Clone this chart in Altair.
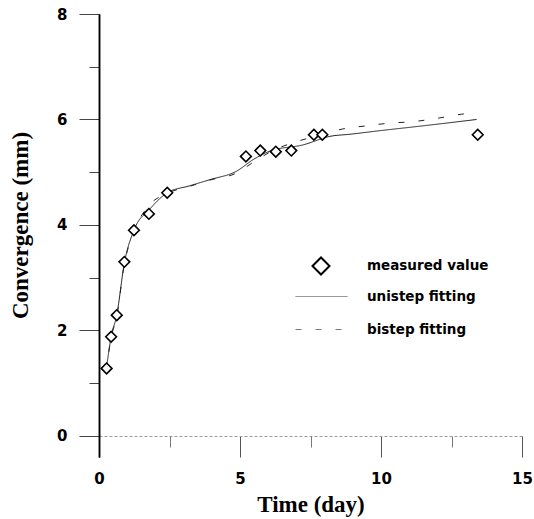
import altair as alt
import pandas as pd

# measured values
meas_t = [0.27, 0.43, 0.63, 0.90, 1.24, 1.77, 2.42, 5.21, 5.72, 6.27, 6.82, 7.62, 7.92, 13.43]
meas_v = [1.28, 1.88, 2.29, 3.30, 3.90, 4.21, 4.61, 5.30, 5.41, 5.39, 5.41, 5.71, 5.71, 5.71]

# unistep fitting curve
uni_t = [0.25, 0.43, 0.63, 0.90, 1.24, 1.80, 2.42, 3.20, 3.94, 4.88, 5.47, 6.06, 7.25, 8.19, 8.90, 10.0, 11.5, 13.39]
uni_v = [1.22, 1.88, 2.29, 3.28, 3.90, 4.30, 4.61, 4.74, 4.86, 5.02, 5.24, 5.40, 5.52, 5.68, 5.72, 5.79, 5.88, 6.00]

# bistep fitting curve
bi_t = [0.25, 0.43, 0.63, 0.90, 1.24, 1.74, 2.42, 3.20, 4.00, 4.86, 5.50, 6.20, 7.01, 7.80, 8.64, 9.49, 10.3, 11.15, 11.97, 12.86, 13.2]
bi_v = [1.22, 1.86, 2.27, 3.26, 3.88, 4.35, 4.60, 4.73, 4.86, 4.98, 5.20, 5.42, 5.58, 5.70, 5.82, 5.88, 5.93, 5.96, 6.02, 6.10, 6.12]

x_major = [0, 5, 10, 15]
x_minor = [2.5, 7.5, 12.5]
y_major = [0, 2, 4, 6, 8]
y_minor = [1, 3, 5, 7]

meas_df = pd.DataFrame({"t": meas_t, "v": meas_v, "series": "measured value"})
uni_df = pd.DataFrame({"t": uni_t, "v": uni_v, "series": "unistep fitting", "i": range(len(uni_t))})
bi_df = pd.DataFrame({"t": bi_t, "v": bi_v, "series": "bistep fitting", "i": range(len(bi_t))})
lines_df = pd.concat([uni_df, bi_df], ignore_index=True)

x_scale = alt.Scale(domain=[0, 15], nice=False, zero=False)
y_scale = alt.Scale(domain=[-0.4, 8], nice=False, zero=False)

label_style = dict(labelFont="DejaVu Sans", labelFontWeight="bold", labelFontSize=15, labelColor="black")
title_style = dict(titleFont="Liberation Serif", titleFontWeight="bold", titleFontSize=23, titleColor="black")

x_major_axis = alt.Axis(
    title="Time (day)", orient="bottom", values=x_major, offset=-21, tickSize=21,
    grid=False, domainColor="#9a9a9a", domainDash=[3, 2], domainWidth=1,
    tickColor="#555555", tickWidth=1, labelPadding=14, labelFlush=False, format="d",
    titlePadding=7, **label_style, **title_style,
)
x_minor_axis = alt.Axis(
    title=None, orient="bottom", values=x_minor, offset=-21, tickSize=11,
    grid=False, domain=False, labels=False, tickColor="#777777", tickWidth=1,
)
y_major_axis = alt.Axis(
    title="Convergence (mm)", orient="left", values=y_major, tickSize=20,
    grid=False, domainColor="black", domainWidth=1.5, tickColor="#444444", tickWidth=1,
    labelPadding=12, format="d",
    titleAngle=-90, titleX=-79, titleY=211, titleAlign="center", titleBaseline="middle",
    **label_style, **title_style,
)
y_minor_axis = alt.Axis(
    title=None, orient="left", values=y_minor, tickSize=10,
    grid=False, domainColor="black", domainWidth=1.5, labels=False, tickColor="#444444", tickWidth=1,
)

legend_label = dict(labelFont="DejaVu Sans", labelFontWeight="bold", labelFontSize=13.5, labelColor="black")

lines = alt.Chart(lines_df).mark_line(color="#222222", strokeWidth=1, interpolate="monotone").encode(
    x=alt.X("t:Q", scale=x_scale, axis=x_major_axis),
    y=alt.Y("v:Q", scale=y_scale, axis=y_major_axis),
    detail="series:N",
    order="i:Q",
    strokeDash=alt.StrokeDash(
        "series:N",
        scale=alt.Scale(domain=["unistep fitting", "bistep fitting"], range=[[1, 0], [6, 14]]),
        legend=alt.Legend(
            title=None, orient="none", legendX=196, legendY=256,
            symbolType="stroke", symbolSize=2700, symbolStrokeColor="#777777", symbolStrokeWidth=1,
            labelOffset=19, rowPadding=0, padding=0, **legend_label,
        ),
    ),
)

meas_legend = alt.Legend(
    title=None, orient="none", legendX=212, legendY=242,
    symbolSize=290, symbolFillColor="white", symbolStrokeWidth=2,
    labelOffset=36, padding=0, **legend_label,
)

points = alt.Chart(meas_df).mark_point(
    filled=False, fill="white", strokeWidth=1.6, size=115, opacity=1
).encode(
    x=alt.X("t:Q", scale=x_scale, axis=x_minor_axis),
    y=alt.Y("v:Q", scale=y_scale, axis=y_minor_axis),
    color=alt.Color("series:N", scale=alt.Scale(domain=["measured value"], range=["black"]), legend=meas_legend),
    shape=alt.Shape("series:N", scale=alt.Scale(domain=["measured value"], range=["diamond"]), legend=meas_legend),
)

chart = (
    alt.layer(lines, points)
    .resolve_scale(shape="independent", strokeDash="independent", color="independent")
    .resolve_axis(x="independent", y="independent")
    .properties(
        width=423,
        height=443,
        autosize=alt.AutoSizeParams(type="none"),
        padding={"left": 99, "top": 14, "right": 12, "bottom": 62},
        background="white",
    )
    .configure_view(stroke=None)
)

chart.save("out.html", embed_options={"renderer": "svg", "actions": False})
